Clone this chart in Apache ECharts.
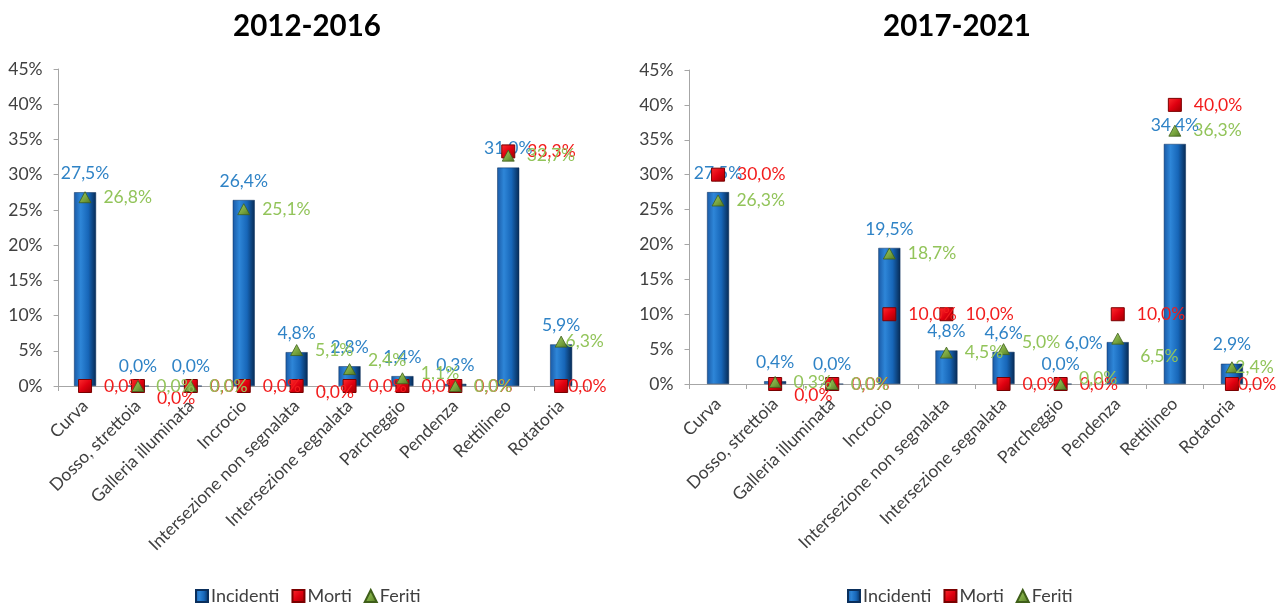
<!DOCTYPE html>
<html>
<head>
<meta charset="utf-8">
<script src="https://cdn.jsdelivr.net/npm/echarts@6/dist/echarts.min.js"></script>
<style>
  html, body { margin: 0; padding: 0; background: #ffffff; }
  #chart { width: 1283px; height: 606px; }
</style>
</head>
<body>
<div id="chart"></div>
<script>
// Road layout categories
const categories = [
  'Curva', 'Dosso, strettoia', 'Galleria illuminata', 'Incrocio',
  'Intersezione non segnalata', 'Intersezione segnalata', 'Parcheggio',
  'Pendenza', 'Rettilineo', 'Rotatoria'
];

// Period titles
const periods = ['2012-2016', '2017-2021'];

// Series names
const seriesNames = ['Incidenti', 'Morti', 'Feriti'];

// Shares (%) for 2012-2016
const incidenti2012 = [27.5, 0.0, 0.0, 26.4, 4.8, 2.8, 1.4, 0.3, 31.0, 5.9];
const morti2012     = [0.0, 0.0, 0.0, 0.0, 0.0, 0.0, 0.0, 0.0, 33.3, 0.0];
const feriti2012    = [26.8, 0.0, 0.0, 25.1, 5.1, 2.4, 1.1, 0.0, 32.7, 6.3];

// Shares (%) for 2017-2021
const incidenti2017 = [27.5, 0.4, 0.0, 19.5, 4.8, 4.6, 0.0, 6.0, 34.4, 2.9];
const morti2017     = [30.0, 0.0, 0.0, 10.0, 10.0, 0.0, 0.0, 10.0, 40.0, 0.0];
const feriti2017    = [26.3, 0.3, 0.0, 18.7, 4.5, 5.0, 0.0, 6.5, 36.3, 2.4];

// Y axis range (percent)
const yMin = 0, yMax = 45, yStep = 5;

// Individual label nudges so overlapping labels stay readable
const labelNudges = {
  morti2012:  { 1: [0, 12], 4: [0, 6], 9: [-12, 0] },
  feriti2012: { 5: [0, -9], 6: [0, -5], 9: [-14, 0] },
  morti2017:  { 1: [0, 11], 9: [-13, 0] },
  feriti2017: { 5: [0, -7], 6: [0, -6], 7: [4, 18], 9: [-15, 0] },
  incidenti2017: { 7: [-34, 20] }
};

const FONT = 'Lato, "Open Sans", sans-serif';
const TEXT = '#404040';
const BLUE_LABEL = '#2f83c6';
const RED_LABEL = '#f21c1c';
const GREEN_LABEL = '#92c45a';
const LABEL_SIZE = 17.5;

const fmt = v => v.toFixed(1).replace('.', ',') + '%';

function withNudges(values, nudges) {
  return values.map((v, i) => {
    if (nudges && nudges[i]) {
      return { value: v, label: { offset: nudges[i] } };
    }
    return v;
  });
}

const barGradient = new echarts.graphic.LinearGradient(0, 0, 1, 0, [
  { offset: 0, color: '#1a5aa6' },
  { offset: 0.3, color: '#2e86d8' },
  { offset: 0.65, color: '#1766b8' },
  { offset: 1, color: '#062a54' }
]);
const redFill = new echarts.graphic.LinearGradient(0, 0, 1, 1, [
  { offset: 0, color: '#ff3030' },
  { offset: 0.5, color: '#e00010' },
  { offset: 1, color: '#9a0000' }
]);
const greenFill = new echarts.graphic.LinearGradient(0, 0, 1, 1, [
  { offset: 0, color: '#a6cf6a' },
  { offset: 0.6, color: '#76a23c' },
  { offset: 1, color: '#4e7222' }
]);

function buildSeries(idx, inc, mor, fer, keys) {
  return [
    {
      name: seriesNames[0], type: 'bar', xAxisIndex: idx, yAxisIndex: idx,
      barWidth: 22,
      data: withNudges(inc, labelNudges[keys[0]]),
      itemStyle: { color: barGradient, borderColor: '#0a2f5c', borderWidth: 0.5 },
      label: {
        show: true, position: 'top', distance: 10,
        formatter: p => fmt(p.value), color: BLUE_LABEL,
        fontFamily: FONT, fontSize: LABEL_SIZE
      },
      z: 2
    },
    {
      name: seriesNames[1], type: 'scatter', xAxisIndex: idx, yAxisIndex: idx,
      symbol: 'rect', symbolSize: 13,
      data: withNudges(mor, labelNudges[keys[1]]),
      itemStyle: { color: redFill, borderColor: '#7a0000', borderWidth: 1, opacity: 1 },
      label: {
        show: true, position: 'right', distance: 12,
        formatter: p => fmt(p.value), color: RED_LABEL,
        fontFamily: FONT, fontSize: LABEL_SIZE
      },
      z: 3
    },
    {
      name: seriesNames[2], type: 'scatter', xAxisIndex: idx, yAxisIndex: idx,
      symbol: 'triangle', symbolSize: [12, 11],
      data: withNudges(fer, labelNudges[keys[2]]),
      itemStyle: { color: greenFill, borderColor: '#3f5f1a', borderWidth: 0.8, opacity: 1 },
      label: {
        show: true, position: 'right', distance: 12,
        formatter: p => fmt(p.value), color: GREEN_LABEL,
        fontFamily: FONT, fontSize: LABEL_SIZE
      },
      z: 4
    }
  ];
}

const grids = [
  { left: 58.6, top: 69, width: 529, height: 317 },
  { left: 689.5, top: 70, width: 571, height: 314 }
];

const xAxes = grids.map((g, i) => ({
  type: 'category', gridIndex: i, data: categories,
  axisLine: { lineStyle: { color: '#a6a6a6', width: 1 } },
  axisTick: { show: true, length: 5, lineStyle: { color: '#a6a6a6' } },
  axisLabel: {
    rotate: 45, interval: 0, margin: 17,
    color: TEXT, fontFamily: FONT, fontSize: 17.5
  }
}));

const yAxes = grids.map((g, i) => ({
  type: 'value', gridIndex: i, min: yMin, max: yMax, interval: yStep,
  axisLine: { show: true, lineStyle: { color: '#a6a6a6', width: 1 } },
  axisTick: { show: true, length: 5, lineStyle: { color: '#a6a6a6' } },
  splitLine: { show: false },
  axisLabel: {
    formatter: v => v + '%', margin: 16,
    color: TEXT, fontFamily: FONT, fontSize: 17.5
  }
}));

const legendData = [
  { name: 'Incidenti', icon: 'rect' },
  { name: 'Morti', icon: 'rect' },
  { name: 'Feriti', icon: 'triangle' }
];

const legendText = { fontFamily: FONT, fontSize: 18, color: TEXT, padding: [0, 0, 0, -2] };

const option = {
  backgroundColor: '#ffffff',
  animation: false,
  title: [
    {
      text: periods[0], left: 302, top: 6, textAlign: 'center',
      textStyle: { fontFamily: FONT, fontWeight: 'bold', fontSize: 29.5, color: '#000' }
    },
    {
      text: periods[1], left: 952, top: 6, textAlign: 'center',
      textStyle: { fontFamily: FONT, fontWeight: 'bold', fontSize: 29.5, color: '#000' }
    }
  ],
  legend: [
    {
      left: 190, top: 582, itemWidth: 12, itemHeight: 12, itemGap: 12,
      data: legendData, textStyle: legendText
    },
    {
      left: 842, top: 582, itemWidth: 12, itemHeight: 12, itemGap: 12,
      data: legendData, textStyle: legendText
    }
  ],
  grid: grids,
  xAxis: xAxes,
  yAxis: yAxes,
  series: [
    ...buildSeries(0, incidenti2012, morti2012, feriti2012, ['incidenti2012', 'morti2012', 'feriti2012']),
    ...buildSeries(1, incidenti2017, morti2017, feriti2017, ['incidenti2017', 'morti2017', 'feriti2017'])
  ]
};

const chart = echarts.init(document.getElementById('chart'), null, { renderer: 'canvas' });
chart.setOption(option);
</script>
</body>
</html>
